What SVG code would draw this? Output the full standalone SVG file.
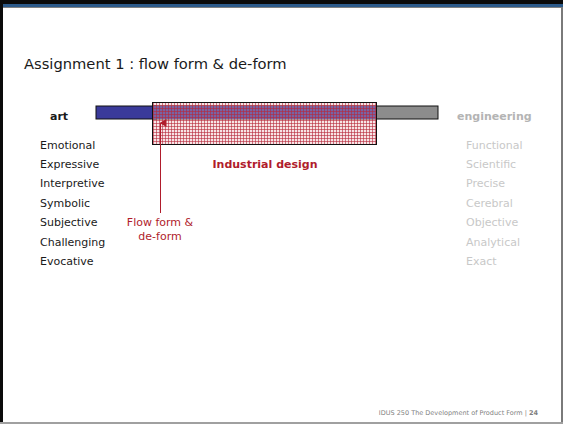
<svg xmlns="http://www.w3.org/2000/svg" width="563" height="424" viewBox="0 0 563 424">
  <style>
    .t { font-family: "DejaVu Sans", Verdana, sans-serif; }
    .title { font-size: 14.7px; fill: #1a1a1a; }
    .left { font-size: 11px; fill: #1a1a1a; }
    .right { font-size: 11px; fill: #c8c8c8; }
    .head { font-size: 11px; font-weight: bold; }
    .red { fill: #b01c2c; }
    .foot { font-size: 6.5px; fill: #7f7f7f; }
  </style>
  <defs>
    <pattern id="grid" width="3" height="3" patternUnits="userSpaceOnUse">
      <rect x="0" y="0" width="3" height="3" fill="#e8b0b8" fill-opacity="0.35"/>
      <rect x="0" y="0" width="3" height="1" fill="#b8283a" fill-opacity="0.6"/>
      <rect x="0" y="0" width="1" height="3" fill="#b8283a" fill-opacity="0.6"/>
    </pattern>
    <marker id="arrow" markerWidth="8" markerHeight="8" refX="4" refY="1" orient="auto-start-reverse" markerUnits="userSpaceOnUse" viewBox="0 0 8 8">
      <path d="M0,7 L4,0 L8,7 Z" fill="#b01c2c"/>
    </marker>
  </defs>

  <!-- slide frame -->
  <rect x="0" y="0" width="563" height="424" fill="#ffffff"/>
  <rect x="0" y="0" width="563" height="4" fill="#0a0a0a"/>
  <rect x="0" y="4" width="563" height="3" fill="#2c5a8a"/>
  <rect x="0" y="7" width="563" height="1" fill="#808080"/>
  <rect x="0" y="0" width="3" height="424" fill="#0a0a0a"/>
  <rect x="561" y="7" width="2" height="417" fill="#7a7a7a"/>
  <rect x="0" y="422" width="563" height="2" fill="#a0a0a0"/>

  <text class="t title" x="24" y="69">Assignment 1 :  flow form &amp; de-form</text>

  <!-- spectrum bar -->
  <g id="spectrum">
    <rect x="96" y="106" width="60" height="13" fill="#3a3a9a" stroke="#111" stroke-width="1"/>
    <rect x="153" y="106" width="285" height="13" fill="#8c8c8c" stroke="#111" stroke-width="1"/>
    <rect x="153" y="106" width="224" height="13" fill="#3a3a9a"/>
  </g>

  <!-- industrial design overlap zone -->
  <g id="industrial-design">
    <rect x="152.5" y="102.5" width="224" height="42" fill="url(#grid)" stroke="#111" stroke-width="1"/>
    <text class="t head red" x="265" y="168" text-anchor="middle">Industrial design</text>
  </g>

  <g id="art">
    <text class="t head" x="50" y="120" fill="#1a1a1a">art</text>
    <text class="t left" x="40" y="149">Emotional</text>
    <text class="t left" x="40" y="168">Expressive</text>
    <text class="t left" x="40" y="187">Interpretive</text>
    <text class="t left" x="40" y="207">Symbolic</text>
    <text class="t left" x="40" y="226">Subjective</text>
    <text class="t left" x="40" y="246">Challenging</text>
    <text class="t left" x="40" y="265">Evocative</text>
  </g>

  <g id="engineering">
    <text class="t head" x="457" y="120" fill="#b4b4b4">engineering</text>
    <text class="t right" x="466" y="149">Functional</text>
    <text class="t right" x="466" y="168">Scientific</text>
    <text class="t right" x="466" y="187">Precise</text>
    <text class="t right" x="466" y="207">Cerebral</text>
    <text class="t right" x="466" y="226">Objective</text>
    <text class="t right" x="466" y="246">Analytical</text>
    <text class="t right" x="466" y="265">Exact</text>
  </g>

  <g id="flow-form">
    <text class="t left red" x="160" y="226" text-anchor="middle">Flow form &amp;</text>
    <text class="t left red" x="160" y="240" text-anchor="middle">de-form</text>
  </g>

  <g id="connectors">
    <line x1="160.5" y1="213" x2="160.5" y2="123" stroke="#b01c2c" stroke-width="1" marker-end="url(#arrow)"/>
  </g>

  <text class="t foot" x="538" y="415" text-anchor="end">IDUS 250 The Development of Product Form  | <tspan font-weight="bold">24</tspan></text>
</svg>
